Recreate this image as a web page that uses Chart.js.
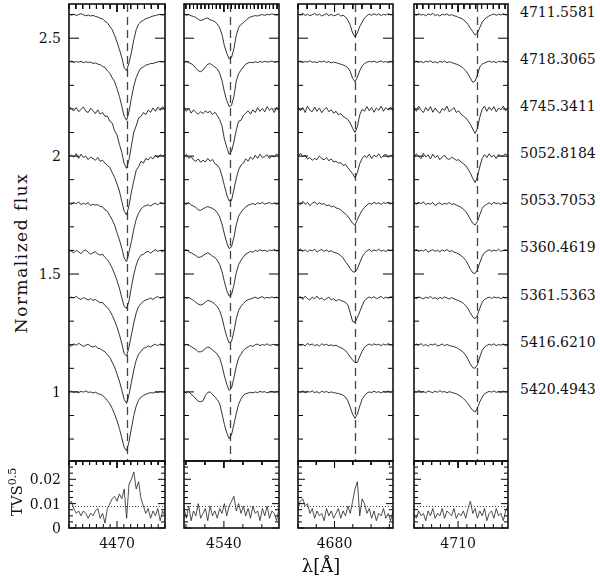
<!DOCTYPE html>
<html lang="en">
<head>
<meta charset="UTF-8">
<title>He line profiles and TVS</title>
<script src="https://cdn.jsdelivr.net/npm/chart.js"></script>
<style>
  body { margin: 0; background: #fff; }
  #page { position: relative; width: 600px; height: 578px; overflow: hidden;
          font-family: 'DejaVu Serif', serif; color: #111; }
  .box { position: absolute; }
  .box canvas { display: block; }
  .lbl { position: absolute; font-size: 14px; line-height: 16px; white-space: nowrap; }
</style>
</head>
<body>
<div id="page"></div>
<script>
// ---- data ----------------------------------------------------------------
// HJD labels of the spectra (top to bottom) and their vertical offsets
const epochs = ['4711.5581', '4718.3065', '4745.3411', '5052.8184', '5053.7053',
                '5360.4619', '5361.5363', '5416.6210', '5420.4943'];
const offsets = [1.6, 1.4, 1.2, 1.0, 0.8, 0.6, 0.4, 0.2, 0.0];

const yTickValues = [1, 1.5, 2, 2.5];
const yTickLabels = ['1', '1.5', '2', '2.5'];
const tvsTickValues = [0, 0.01, 0.02];
const tvsTickLabels = ['0', '0.01', '0.02'];
const xTickValues = [4470, 4540, 4680, 4710];
const xTickLabels = ['4470', '4540', '4680', '4710'];
const restLines = [4471.5, 4541.6, 4685.7, 4713.2];
const tvsLevel = 0.0092;

// He I 4471
const wave1 = [4463.00, 4463.35, 4463.70, 4464.05, 4464.40, 4464.75, 4465.10, 4465.45, 4465.80, 4466.15,
  4466.50, 4466.85, 4467.20, 4467.55, 4467.90, 4468.25, 4468.60, 4468.95, 4469.30, 4469.65,
  4470.00, 4470.35, 4470.70, 4471.05, 4471.40, 4471.75, 4472.10, 4472.45, 4472.80, 4473.15,
  4473.50, 4473.85, 4474.20, 4474.55, 4474.90, 4475.25, 4475.60, 4475.95, 4476.30, 4476.65, 4477.00];
const flux1 = [
  [1.003,0.998,1.002,0.996,1.000,1.004,0.999,0.995,0.998,0.994,0.997,0.992,0.990,0.984,0.982,0.972,0.965,0.950,0.936,0.912,0.884,0.852,0.818,0.775,0.762,0.795,0.840,0.893,0.936,0.960,0.970,0.976,0.983,0.986,0.990,0.994,0.996,0.999,1.001,0.998,1.002],
  [1.000,1.003,0.997,1.001,0.998,1.002,0.996,1.000,0.997,0.999,0.993,0.995,0.990,0.988,0.980,0.976,0.962,0.951,0.932,0.916,0.886,0.853,0.812,0.768,0.752,0.788,0.846,0.897,0.933,0.957,0.973,0.978,0.986,0.988,0.993,0.992,0.997,0.999,1.002,1.000,1.001],
  [1.012,1.000,0.992,1.006,0.988,0.998,1.008,0.990,0.985,1.002,0.993,0.980,0.996,0.978,0.985,0.968,0.970,0.948,0.940,0.908,0.890,0.850,0.815,0.768,0.748,0.785,0.842,0.902,0.928,0.962,0.968,0.985,0.976,0.995,0.986,1.004,0.990,1.008,0.994,1.010,0.998],
  [0.998,1.004,0.996,1.010,0.990,1.008,0.994,1.000,0.985,0.996,0.990,0.982,0.994,0.978,0.982,0.970,0.960,0.952,0.930,0.910,0.882,0.852,0.808,0.766,0.750,0.790,0.848,0.895,0.940,0.955,0.978,0.970,0.990,0.984,0.996,0.988,1.004,0.992,1.006,1.000,1.006],
  [1.002,0.995,1.004,0.998,1.006,0.994,1.000,0.996,1.003,0.990,0.996,0.992,0.994,0.986,0.985,0.972,0.966,0.948,0.930,0.908,0.875,0.845,0.810,0.768,0.752,0.792,0.838,0.890,0.932,0.958,0.975,0.986,0.990,0.994,0.988,0.996,1.000,0.993,1.004,0.998,1.002],
  [1.004,0.996,0.990,1.000,0.994,0.986,0.998,1.002,0.992,0.984,0.990,0.994,0.985,0.980,0.984,0.970,0.960,0.945,0.925,0.900,0.872,0.840,0.800,0.762,0.754,0.786,0.845,0.898,0.938,0.965,0.980,0.984,0.992,0.996,0.988,0.997,1.003,0.996,1.000,0.994,1.004],
  [0.996,1.002,0.998,1.005,0.997,0.992,1.000,0.995,0.990,0.996,0.988,0.992,0.984,0.978,0.980,0.966,0.958,0.944,0.925,0.902,0.875,0.843,0.805,0.762,0.752,0.790,0.842,0.892,0.935,0.962,0.975,0.984,0.990,0.993,0.998,0.992,1.000,1.004,0.997,1.003,1.000],
  [1.000,0.994,1.004,0.998,1.006,1.000,0.993,0.998,1.002,0.994,0.990,0.995,0.986,0.983,0.976,0.970,0.958,0.946,0.926,0.905,0.876,0.846,0.808,0.768,0.751,0.788,0.840,0.893,0.934,0.960,0.972,0.985,0.988,0.995,0.990,0.998,1.002,0.996,1.004,0.999,1.003],
  [1.000,1.003,0.998,1.001,0.996,1.002,0.999,1.004,0.998,1.000,0.995,0.999,0.993,0.990,0.985,0.975,0.963,0.950,0.930,0.906,0.878,0.845,0.805,0.765,0.750,0.788,0.845,0.900,0.940,0.965,0.978,0.985,0.990,0.994,0.997,0.995,1.000,0.998,1.002,1.000,1.001]
];
const tvs1 = [0.010,0.011,0.008,0.006,0.007,0.005,0.007,0.006,0.004,0.006,0.005,0.007,0.008,0.004,0.006,0.002,0.008,0.010,0.012,0.013,0.011,0.014,0.012,0.016,0.004,0.018,0.020,0.023,0.016,0.019,0.012,0.009,0.006,0.008,0.004,0.007,0.005,0.008,0.003,0.007,0.005];

// He II 4542
const wave2 = [4529.500, 4530.125, 4530.750, 4531.375, 4532.000, 4532.625, 4533.250, 4533.875, 4534.500, 4535.125,
  4535.750, 4536.375, 4537.000, 4537.625, 4538.250, 4538.875, 4539.500, 4540.125, 4540.750, 4541.375,
  4542.000, 4542.625, 4543.250, 4543.875, 4544.500, 4545.125, 4545.750, 4546.375, 4547.000, 4547.625,
  4548.250, 4548.875, 4549.500, 4550.125, 4550.750, 4551.375, 4552.000, 4552.625, 4553.250, 4553.875, 4554.500];
const flux2 = [
  [1.002,0.998,1.000,0.995,0.992,0.988,0.980,0.975,0.978,0.984,0.985,0.978,0.975,0.970,0.960,0.945,0.915,0.868,0.836,0.812,0.818,0.855,0.912,0.945,0.958,0.966,0.975,0.984,0.990,0.993,0.996,0.994,0.998,1.000,0.997,1.001,0.999,1.003,1.000,0.998,1.002],
  [0.998,1.002,0.996,0.992,0.985,0.972,0.962,0.958,0.965,0.978,0.990,0.992,0.985,0.978,0.970,0.952,0.920,0.872,0.835,0.810,0.815,0.852,0.918,0.950,0.965,0.978,0.990,0.995,0.998,0.996,1.000,0.997,1.001,0.998,1.002,0.999,1.000,1.003,0.998,1.001,1.000],
  [1.008,0.990,1.004,0.982,0.996,0.985,0.978,0.988,0.980,0.992,0.984,0.990,0.976,0.986,0.972,0.955,0.928,0.872,0.838,0.808,0.820,0.860,0.910,0.948,0.952,0.972,0.982,0.992,0.978,0.996,0.985,1.006,0.990,1.002,0.988,1.010,0.994,1.004,0.985,1.008,0.996],
  [0.996,1.008,0.990,0.998,0.984,0.978,0.988,0.974,0.982,0.975,0.990,0.978,0.986,0.968,0.962,0.948,0.915,0.875,0.835,0.810,0.812,0.858,0.905,0.942,0.962,0.970,0.988,0.978,0.996,0.986,1.004,0.990,1.008,0.994,0.998,1.006,0.990,1.002,0.996,1.010,0.998],
  [1.000,0.995,1.003,0.992,0.988,0.982,0.972,0.970,0.976,0.982,0.986,0.982,0.978,0.972,0.960,0.942,0.912,0.870,0.832,0.808,0.815,0.855,0.908,0.945,0.962,0.975,0.984,0.992,0.995,0.999,0.994,1.002,0.998,1.004,0.996,1.000,1.003,0.997,1.001,0.995,1.002],
  [0.998,1.003,0.994,0.990,0.984,0.978,0.970,0.972,0.978,0.985,0.990,0.984,0.975,0.970,0.958,0.940,0.910,0.868,0.830,0.806,0.812,0.852,0.905,0.940,0.958,0.972,0.985,0.990,0.996,0.992,1.000,0.996,1.003,0.998,1.001,0.995,1.002,0.999,1.004,0.997,1.000],
  [1.002,0.997,1.000,0.994,0.988,0.980,0.972,0.968,0.972,0.980,0.988,0.985,0.980,0.972,0.962,0.945,0.915,0.872,0.834,0.808,0.814,0.856,0.910,0.946,0.963,0.974,0.986,0.991,0.994,0.998,1.002,0.996,1.000,1.004,0.997,1.001,0.998,1.003,0.999,1.002,0.998],
  [0.997,1.002,0.998,0.992,0.986,0.980,0.970,0.970,0.975,0.984,0.990,0.986,0.978,0.970,0.960,0.944,0.912,0.868,0.832,0.806,0.816,0.858,0.908,0.944,0.960,0.976,0.985,0.990,0.997,0.993,1.000,1.003,0.996,1.001,0.998,1.004,0.997,1.000,1.002,0.996,1.001],
  [1.000,0.996,1.002,0.990,0.982,0.970,0.960,0.958,0.962,0.985,0.998,1.000,0.990,0.978,0.968,0.950,0.908,0.862,0.826,0.802,0.818,0.862,0.908,0.948,0.970,0.986,0.992,0.995,0.998,0.996,1.000,0.997,1.002,0.999,1.001,0.996,1.000,1.003,0.998,1.001,1.000]
];
const tvs2 = [0.008,0.004,0.009,0.003,0.007,0.005,0.010,0.004,0.006,0.008,0.003,0.009,0.005,0.007,0.004,0.008,0.006,0.010,0.005,0.009,0.011,0.013,0.007,0.010,0.006,0.009,0.005,0.008,0.004,0.009,0.006,0.007,0.003,0.008,0.005,0.009,0.004,0.007,0.006,0.003,0.008];

// He II 4686
const wave3 = [4670.00, 4670.65, 4671.30, 4671.95, 4672.60, 4673.25, 4673.90, 4674.55, 4675.20, 4675.85,
  4676.50, 4677.15, 4677.80, 4678.45, 4679.10, 4679.75, 4680.40, 4681.05, 4681.70, 4682.35,
  4683.00, 4683.65, 4684.30, 4684.95, 4685.60, 4686.25, 4686.90, 4687.55, 4688.20, 4688.85,
  4689.50, 4690.15, 4690.80, 4691.45, 4692.10, 4692.75, 4693.40, 4694.05, 4694.70, 4695.35, 4696.00];
const flux3 = [
  [1.004,0.998,1.006,0.996,1.002,0.995,1.000,1.005,0.997,1.002,0.994,0.999,1.004,0.996,1.001,0.995,0.998,1.003,0.994,0.997,0.990,0.976,0.955,0.922,0.905,0.922,0.950,0.968,0.985,0.996,1.002,0.997,1.004,0.998,1.003,0.996,1.001,0.998,1.004,0.999,1.002],
  [1.000,1.003,0.997,1.001,0.999,1.004,0.998,1.000,0.996,1.002,0.999,1.003,0.997,1.001,0.995,0.999,0.996,0.993,0.990,0.986,0.982,0.975,0.958,0.930,0.915,0.935,0.962,0.982,0.993,0.998,1.002,0.999,1.003,0.997,1.000,1.004,0.998,1.001,0.997,1.002,0.999],
  [1.010,0.992,1.006,0.985,1.012,0.994,0.988,1.008,0.990,1.004,0.984,0.998,1.006,0.988,0.996,0.982,0.990,0.975,0.980,0.968,0.962,0.955,0.940,0.918,0.900,0.925,0.975,0.998,0.990,1.010,0.992,1.006,0.986,1.004,0.994,1.012,0.990,1.006,0.995,1.008,0.992],
  [0.995,1.012,0.998,1.004,0.988,0.994,0.982,0.990,0.985,1.000,0.990,0.984,0.994,0.980,0.988,0.975,0.978,0.970,0.972,0.960,0.965,0.950,0.938,0.925,0.908,0.930,0.968,0.990,1.002,0.994,1.008,0.990,1.004,0.996,1.010,0.992,1.002,1.008,0.994,1.004,1.000],
  [1.002,0.994,1.008,0.996,1.004,0.990,1.000,1.006,0.995,1.002,0.996,0.998,0.990,0.993,0.985,0.988,0.980,0.978,0.972,0.962,0.955,0.945,0.930,0.915,0.908,0.930,0.952,0.970,0.982,0.992,1.000,0.996,1.004,0.998,1.002,0.995,1.003,0.999,1.005,0.997,1.002],
  [1.000,1.006,0.996,1.003,0.994,1.002,0.998,1.005,0.993,1.000,1.004,0.996,1.002,0.995,0.999,0.992,0.990,0.985,0.978,0.968,0.952,0.938,0.922,0.910,0.908,0.922,0.948,0.972,0.988,0.998,1.004,0.996,1.002,0.998,1.005,0.997,1.001,0.995,1.003,0.999,1.004],
  [0.998,1.004,0.992,1.006,0.996,0.990,1.002,0.995,1.006,0.993,0.998,0.988,0.996,1.002,0.990,0.996,0.985,0.992,0.988,0.984,0.980,0.968,0.935,0.898,0.896,0.915,0.940,0.965,0.988,0.996,1.003,0.997,1.004,0.995,1.000,1.005,0.996,1.002,0.998,1.004,1.000],
  [1.004,0.997,1.002,0.995,1.006,0.999,1.003,0.996,1.001,0.994,1.004,0.998,1.002,0.996,1.000,0.995,0.998,0.992,0.988,0.982,0.975,0.962,0.948,0.935,0.924,0.925,0.950,0.972,0.990,0.998,1.003,0.997,1.004,0.999,1.002,0.996,1.003,0.998,1.005,0.999,1.002],
  [1.003,0.998,1.005,0.996,1.002,0.999,1.004,0.997,1.001,0.995,1.003,0.998,1.002,0.996,1.000,0.997,0.995,0.993,0.990,0.986,0.978,0.962,0.935,0.905,0.888,0.905,0.940,0.968,0.984,0.995,1.000,0.997,1.003,0.998,1.001,0.996,1.002,0.999,1.004,0.998,1.002]
];
const tvs3 = [0.008,0.011,0.012,0.009,0.010,0.006,0.008,0.004,0.007,0.005,0.006,0.003,0.008,0.005,0.007,0.004,0.006,0.008,0.004,0.007,0.005,0.009,0.006,0.011,0.016,0.019,0.005,0.012,0.010,0.006,0.008,0.004,0.007,0.003,0.006,0.005,0.008,0.004,0.006,0.003,0.007];

// He I 4713
const wave4 = [4702.5, 4702.9, 4703.3, 4703.7, 4704.1, 4704.5, 4704.9, 4705.3, 4705.7, 4706.1,
  4706.5, 4706.9, 4707.3, 4707.7, 4708.1, 4708.5, 4708.9, 4709.3, 4709.7, 4710.1,
  4710.5, 4710.9, 4711.3, 4711.7, 4712.1, 4712.5, 4712.9, 4713.3, 4713.7, 4714.1,
  4714.5, 4714.9, 4715.3, 4715.7, 4716.1, 4716.5, 4716.9, 4717.3, 4717.7, 4718.1, 4718.5];
const flux4 = [
  [1.002,0.997,1.004,0.998,1.001,0.995,1.003,0.999,1.005,0.996,1.000,0.994,1.002,0.998,1.003,0.996,1.000,0.995,0.993,0.988,0.985,0.978,0.970,0.958,0.942,0.928,0.913,0.922,0.945,0.968,0.980,0.988,0.995,0.999,1.003,0.997,1.002,0.998,1.004,0.999,1.001],
  [0.999,1.003,0.998,1.001,0.996,1.002,0.999,1.004,0.997,1.000,0.995,1.002,0.998,1.003,0.996,1.000,0.997,0.993,0.990,0.986,0.980,0.972,0.962,0.948,0.930,0.913,0.918,0.944,0.978,0.990,0.995,0.999,1.003,0.998,1.001,0.996,1.002,0.999,1.003,0.997,1.001],
  [1.008,0.990,1.012,0.994,0.985,1.006,0.992,1.010,0.986,1.004,0.990,0.982,1.002,0.994,1.012,0.988,0.996,1.006,0.985,0.992,0.978,0.970,0.962,0.950,0.935,0.915,0.896,0.918,0.965,0.998,1.012,0.990,1.008,0.994,1.010,0.988,1.004,0.996,1.012,0.992,1.004],
  [0.994,1.010,0.998,0.990,1.012,0.996,1.006,0.988,1.008,0.994,1.002,0.985,0.996,1.004,0.990,0.986,0.995,0.990,0.982,0.985,0.975,0.968,0.960,0.945,0.928,0.905,0.888,0.912,0.955,0.990,1.006,0.994,1.010,0.996,1.004,0.990,1.008,0.998,1.002,1.010,0.996],
  [1.002,0.996,1.004,0.998,1.006,0.994,1.000,0.996,1.003,0.990,0.998,1.002,0.994,1.000,0.996,1.003,0.995,0.998,0.992,0.988,0.983,0.975,0.965,0.950,0.932,0.915,0.908,0.922,0.952,0.978,0.990,0.996,1.002,0.995,1.004,0.998,1.001,0.994,1.003,0.999,1.002],
  [0.998,1.004,0.995,1.001,0.997,1.005,0.993,0.999,1.003,0.996,1.001,0.994,1.002,0.997,1.004,0.995,0.999,0.993,0.990,0.985,0.978,0.970,0.958,0.940,0.920,0.905,0.902,0.918,0.948,0.975,0.990,0.997,1.003,0.996,1.001,0.998,1.005,0.996,1.000,1.003,0.998],
  [1.001,0.996,1.003,0.999,0.994,1.002,0.997,1.005,0.996,1.000,0.993,1.001,0.996,1.003,0.998,0.994,1.000,0.995,0.991,0.987,0.982,0.976,0.966,0.952,0.935,0.918,0.910,0.925,0.955,0.980,0.992,0.998,1.002,0.996,1.003,0.999,1.001,0.995,1.002,0.998,1.003],
  [0.997,1.003,0.998,1.005,0.996,1.001,0.994,1.002,0.999,1.004,0.995,0.998,1.003,0.996,1.001,0.997,0.994,0.992,0.988,0.983,0.976,0.968,0.955,0.938,0.918,0.903,0.900,0.915,0.948,0.976,0.990,0.997,1.002,0.998,1.004,0.996,1.001,0.998,1.003,0.997,1.001],
  [1.003,0.998,1.006,0.999,1.002,0.996,1.004,1.000,0.997,1.003,0.998,1.005,0.999,1.002,0.996,1.001,0.998,0.995,0.992,0.987,0.980,0.972,0.962,0.950,0.935,0.922,0.915,0.932,0.958,0.978,0.992,0.998,1.002,0.999,1.004,0.998,1.002,0.999,1.003,1.000,1.002]
];
const tvs4 = [0.005,0.004,0.007,0.005,0.006,0.003,0.007,0.005,0.008,0.004,0.006,0.005,0.008,0.004,0.007,0.006,0.005,0.008,0.004,0.006,0.005,0.007,0.004,0.008,0.011,0.006,0.008,0.004,0.007,0.005,0.008,0.003,0.006,0.007,0.004,0.008,0.005,0.006,0.003,0.007,0.009];

// ---- layout --------------------------------------------------------------
const PAD = 6;
const TOP = 4, MID = 461, BOT = 528;
const UP_MIN = 0.707, UP_MAX = 2.645;
const TVS_MIN = 0, TVS_MAX = 0.0275;
const panels = [
  { wave: wave1, flux: flux1, tvs: tvs1, xmin: 4463, xmax: 4477, left: 69, right: 165, minor: 1, major: 10, tvsMinor: 1 },
  { wave: wave2, flux: flux2, tvs: tvs2, xmin: 4529.5, xmax: 4554.5, left: 184, right: 279, minor: 1, major: 20, tvsMinor: 5 },
  { wave: wave3, flux: flux3, tvs: tvs3, xmin: 4670, xmax: 4696, left: 298, right: 393, minor: 2.5, major: 20, tvsMinor: 5 },
  { wave: wave4, flux: flux4, tvs: tvs4, xmin: 4702.5, xmax: 4718.5, left: 414, right: 508, minor: 1, major: 10, tvsMinor: 1.5 }
];

function tickVals(min, max, step) {
  const out = [];
  for (let i = Math.ceil(min / step - 1e-6); i * step <= max + 1e-6; i++) out.push(i * step);
  return out;
}
function isMajor(v, step) {
  return Math.abs(v / step - Math.round(v / step)) < 1e-6;
}
function seg(ctx, x0, y0, x1, y1) {
  ctx.beginPath(); ctx.moveTo(x0, y0); ctx.lineTo(x1, y1); ctx.stroke();
}

// inward tick marks, one small line dataset each, placed on the axis values
function tickSets(f, width, height) {
  const dx = (f.xmax - f.xmin) / width;
  const dy = (f.ymax - f.ymin) / height;
  const sets = [];
  const add = (a, b) => sets.push({ data: [a, b], borderColor: '#000', borderWidth: 1, fill: false, clip: false });
  tickVals(f.xmin, f.xmax, f.xMinor).forEach(v => {
    const len = isMajor(v, f.xMajor) ? f.big : f.small;
    add({ x: v, y: f.ymax }, { x: v, y: f.ymax - len * dy });
    if (f.bottomTicks) add({ x: v, y: f.ymin }, { x: v, y: f.ymin + len * dy });
  });
  tickVals(f.ymin, f.ymax, f.yMinor).forEach(v => {
    const len = isMajor(v, f.yMajor) ? f.bigY : f.smallY;
    add({ x: f.xmin, y: v }, { x: f.xmin + len * dx, y: v });
    add({ x: f.xmax, y: v }, { x: f.xmax - len * dx, y: v });
  });
  return sets;
}

// inline plugin: rest wavelength and TVS threshold under the data, box on top
function framePlugin(f) {
  return {
    id: 'frame',
    beforeDatasetsDraw(chart) {
      const ctx = chart.ctx, a = chart.chartArea;
      const x = chart.scales.x, y = chart.scales.y;
      ctx.save();
      if (f.rest) {
        const px = Math.round(x.getPixelForValue(f.rest)) + 0.5;
        ctx.strokeStyle = '#444';
        ctx.lineWidth = 1.3;
        ctx.setLineDash([8, 5]);
        seg(ctx, px, a.top, px, a.bottom);
      }
      if (f.level) {
        const py = Math.round(y.getPixelForValue(f.level)) + 0.5;
        ctx.strokeStyle = '#444';
        ctx.lineWidth = 1;
        ctx.setLineDash([1, 2]);
        seg(ctx, a.left, py, a.right, py);
      }
      ctx.restore();
    },
    afterDraw(chart) {
      const ctx = chart.ctx, a = chart.chartArea;
      ctx.save();
      ctx.setLineDash([]);
      ctx.lineWidth = 1.6;
      ctx.strokeStyle = '#111';
      ctx.strokeRect(a.left, a.top, a.right - a.left, a.bottom - a.top);
      ctx.restore();
    }
  };
}

const page = document.getElementById('page');

function makeChart(left, top, width, height, datasets, frame) {
  const box = document.createElement('div');
  box.className = 'box';
  box.style.left = (left - PAD) + 'px';
  box.style.top = (top - PAD) + 'px';
  const cv = document.createElement('canvas');
  cv.width = width + 2 * PAD;
  cv.height = height + 2 * PAD;
  box.appendChild(cv);
  page.appendChild(box);
  return new Chart(cv.getContext('2d'), {
    type: 'line',
    data: { datasets: datasets.concat(tickSets(frame, width, height)) },
    options: {
      responsive: false,
      animation: false,
      devicePixelRatio: 1,
      layout: { padding: PAD },
      parsing: false,
      elements: { point: { radius: 0 }, line: { tension: 0 } },
      plugins: { legend: { display: false }, tooltip: { enabled: false } },
      scales: {
        x: { type: 'linear', min: frame.xmin, max: frame.xmax, display: false },
        y: { type: 'linear', min: frame.ymin, max: frame.ymax, display: false }
      }
    },
    plugins: [framePlugin(frame)]
  });
}

function addLabel(text, x, y, align) {
  const d = document.createElement('div');
  d.className = 'lbl';
  d.innerHTML = text;
  d.style.left = x + 'px';
  d.style.top = y + 'px';
  d.style.transform = align;
  page.appendChild(d);
  return d;
}

const charts = [];

panels.forEach((p, i) => {
  const w = p.right - p.left;
  const spectra = p.flux.map((f, r) => ({
    data: p.wave.map((wl, k) => ({ x: wl, y: f[k] + offsets[r] })),
    borderColor: '#1c1c1c',
    borderWidth: 0.9,
    fill: false
  }));
  const up = makeChart(p.left, TOP, w, MID - TOP, spectra, {
    xmin: p.xmin, xmax: p.xmax, ymin: UP_MIN, ymax: UP_MAX,
    rest: restLines[i], xMinor: p.minor, xMajor: p.major, yMinor: 0.1, yMajor: 0.5,
    big: 8, small: 5, bigY: 10, smallY: 5, bottomTicks: false
  });
  const tvsSet = [{
    data: p.wave.map((wl, k) => ({ x: wl, y: p.tvs[k] })),
    borderColor: '#222',
    borderWidth: 0.8,
    fill: false
  }];
  const low = makeChart(p.left, MID, w, BOT - MID, tvsSet, {
    xmin: p.xmin, xmax: p.xmax, ymin: TVS_MIN, ymax: TVS_MAX,
    level: tvsLevel, xMinor: p.tvsMinor, xMajor: p.major, yMinor: 0.0025, yMajor: 0.01,
    big: 7, small: 4, bigY: 7, smallY: 4, bottomTicks: true
  });
  charts.push({ up, low, p });

  // wavelength tick label under each panel
  const xp = p.left - PAD + low.scales.x.getPixelForValue(xTickValues[i]);
  addLabel(xTickLabels[i], xp, 543, 'translate(-50%,-50%)');
});

// y tick labels on the first panel
const first = charts[0];
yTickValues.forEach((v, j) => {
  const yp = TOP - PAD + first.up.scales.y.getPixelForValue(v);
  addLabel(yTickLabels[j], 61, yp, 'translate(-100%,-50%)');
});
tvsTickValues.forEach((v, j) => {
  const yp = MID - PAD + first.low.scales.y.getPixelForValue(v);
  addLabel(tvsTickLabels[j], 61, yp, 'translate(-100%,-50%)');
});

// epoch labels to the right of the last panel
const last = charts[3];
epochs.forEach((t, r) => {
  const yp = TOP - PAD + last.up.scales.y.getPixelForValue(1 + offsets[r]) - 3;
  addLabel(t, 520, yp, 'translate(0,-50%)');
});

// axis titles
const yt = addLabel('Normalized flux', 21, 253, 'translate(-50%,-50%) rotate(-90deg)');
yt.style.fontSize = '17px';
yt.style.letterSpacing = '1.5px';
const tv = addLabel('TVS<sup style="font-size:11px;vertical-align:6px">0.5</sup>', 15, 492, 'translate(-50%,-50%) rotate(-90deg)');
tv.style.fontSize = '15px';
const xl = addLabel('λ[Å]', 321, 566, 'translate(-50%,-50%)');
xl.style.fontSize = '18px';
</script>
</body>
</html>
